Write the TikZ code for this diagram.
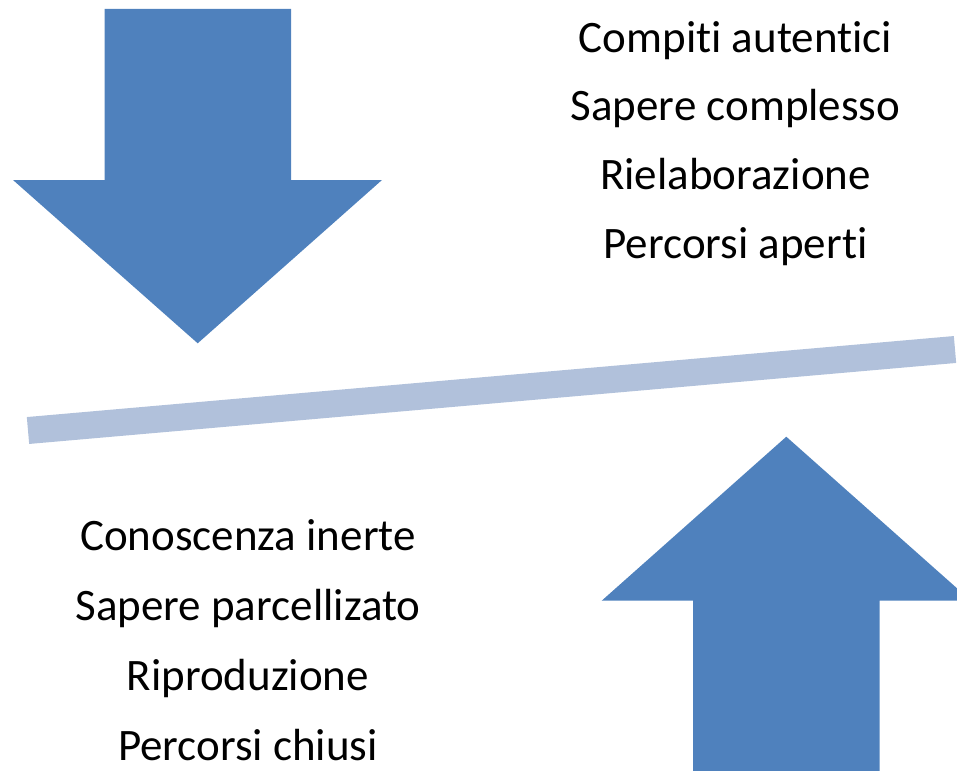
\documentclass[tikz,border=0pt]{standalone}
\usepackage{fontspec}
\setmainfont{Carlito}[Ligatures={NoCommon,NoRare}]
\definecolor{arrowblue}{HTML}{4F81BD}
\definecolor{barblue}{HTML}{B1C1DB}
\begin{document}
\begin{tikzpicture}[x=1pt,y=-1pt,
  bigarrow/.style={fill=arrowblue,draw=none},
  lbl/.style={anchor=base,inner sep=0pt,font=\fontsize{45}{54}\selectfont,text=black}]
\useasboundingbox (0,0) rectangle (957,770);
\clip (0,0) rectangle (957,770);
% down arrow
\fill[bigarrow] (104.5,9) -- (291,9) -- (291,180) -- (382,180) -- (197.7,343.3) -- (13,180) -- (104.5,180) -- cycle;
% up arrow
\fill[bigarrow] (693,771) -- (693,600.7) -- (601.7,600.7) -- (786.3,436.7) -- (971,600.7) -- (879.7,600.7) -- (879.7,771) -- cycle;
% bar
\coordinate (barL) at (28,430.5);
\coordinate (barR) at (955,349.5);
\draw[barblue,line width=27pt,line cap=butt] (barL) -- (barR);
% upper texts
\node[lbl] (u1) at (735.5,52.5) {Compiti autentici};
\node[lbl] (u2) at (735.5,120.5) {Sapere complesso};
\node[lbl] (u3) at (735.5,189) {Rielaborazione};
\node[lbl] (u4) at (735.5,258) {Percorsi aperti};
% lower texts
\node[lbl] (l1) at (248,550) {Conoscenza inerte};
\node[lbl] (l2) at (248,620) {Sapere parcellizato};
\node[lbl] (l3) at (248,690) {Riproduzione};
\node[lbl] (l4) at (248,760) {Percorsi chiusi};
\end{tikzpicture}
\end{document}
